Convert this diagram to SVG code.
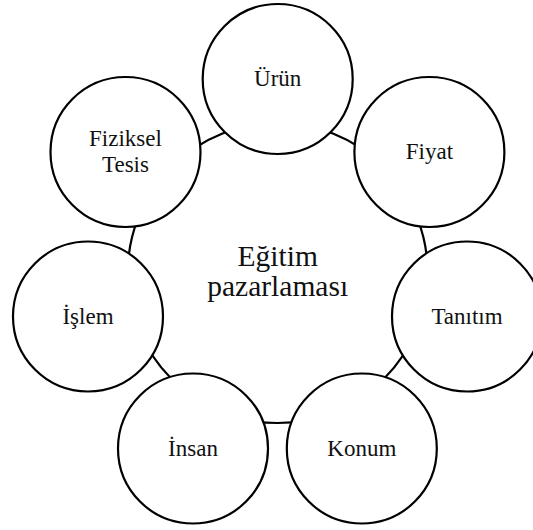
<svg xmlns="http://www.w3.org/2000/svg" width="533" height="530" viewBox="0 0 533 530">
<style>
  .c { fill: #fff; stroke: #000; stroke-width: 2.2; }
  .t { font-family: "Liberation Serif", "Times New Roman", serif; font-size: 23px; fill: #111; text-anchor: middle; }
  .m { font-family: "Liberation Serif", "Times New Roman", serif; font-size: 29.5px; fill: #111; text-anchor: middle; }
</style>
<rect width="533" height="530" fill="#fff"/>
<g id="connectors"></g>
<g id="center">
  <circle class="c" cx="277.7" cy="273" r="150"/>
  <text class="m" x="277.7" y="266">Eğitim</text>
  <text class="m" x="277.7" y="296">pazarlaması</text>
</g>
<g id="urun">
  <circle class="c" cx="277.7" cy="79" r="75"/>
  <text class="t" x="277.7" y="86">Ürün</text>
</g>
<g id="fiyat">
  <circle class="c" cx="429.4" cy="152" r="75"/>
  <text class="t" x="429.4" y="159">Fiyat</text>
</g>
<g id="tanitim">
  <circle class="c" cx="467" cy="316.5" r="75"/>
  <text class="t" x="467" y="324">Tanıtım</text>
</g>
<g id="konum">
  <circle class="c" cx="361.8" cy="448.5" r="75"/>
  <text class="t" x="361.8" y="456">Konum</text>
</g>
<g id="insan">
  <circle class="c" cx="193" cy="448.5" r="75"/>
  <text class="t" x="193" y="456">İnsan</text>
</g>
<g id="islem">
  <circle class="c" cx="88" cy="316.5" r="75"/>
  <text class="t" x="88" y="324">İşlem</text>
</g>
<g id="fiziksel-tesis">
  <circle class="c" cx="125.5" cy="152" r="75"/>
  <text class="t" x="125.5" y="146">Fiziksel</text>
  <text class="t" x="125.5" y="172">Tesis</text>
</g>
</svg>
